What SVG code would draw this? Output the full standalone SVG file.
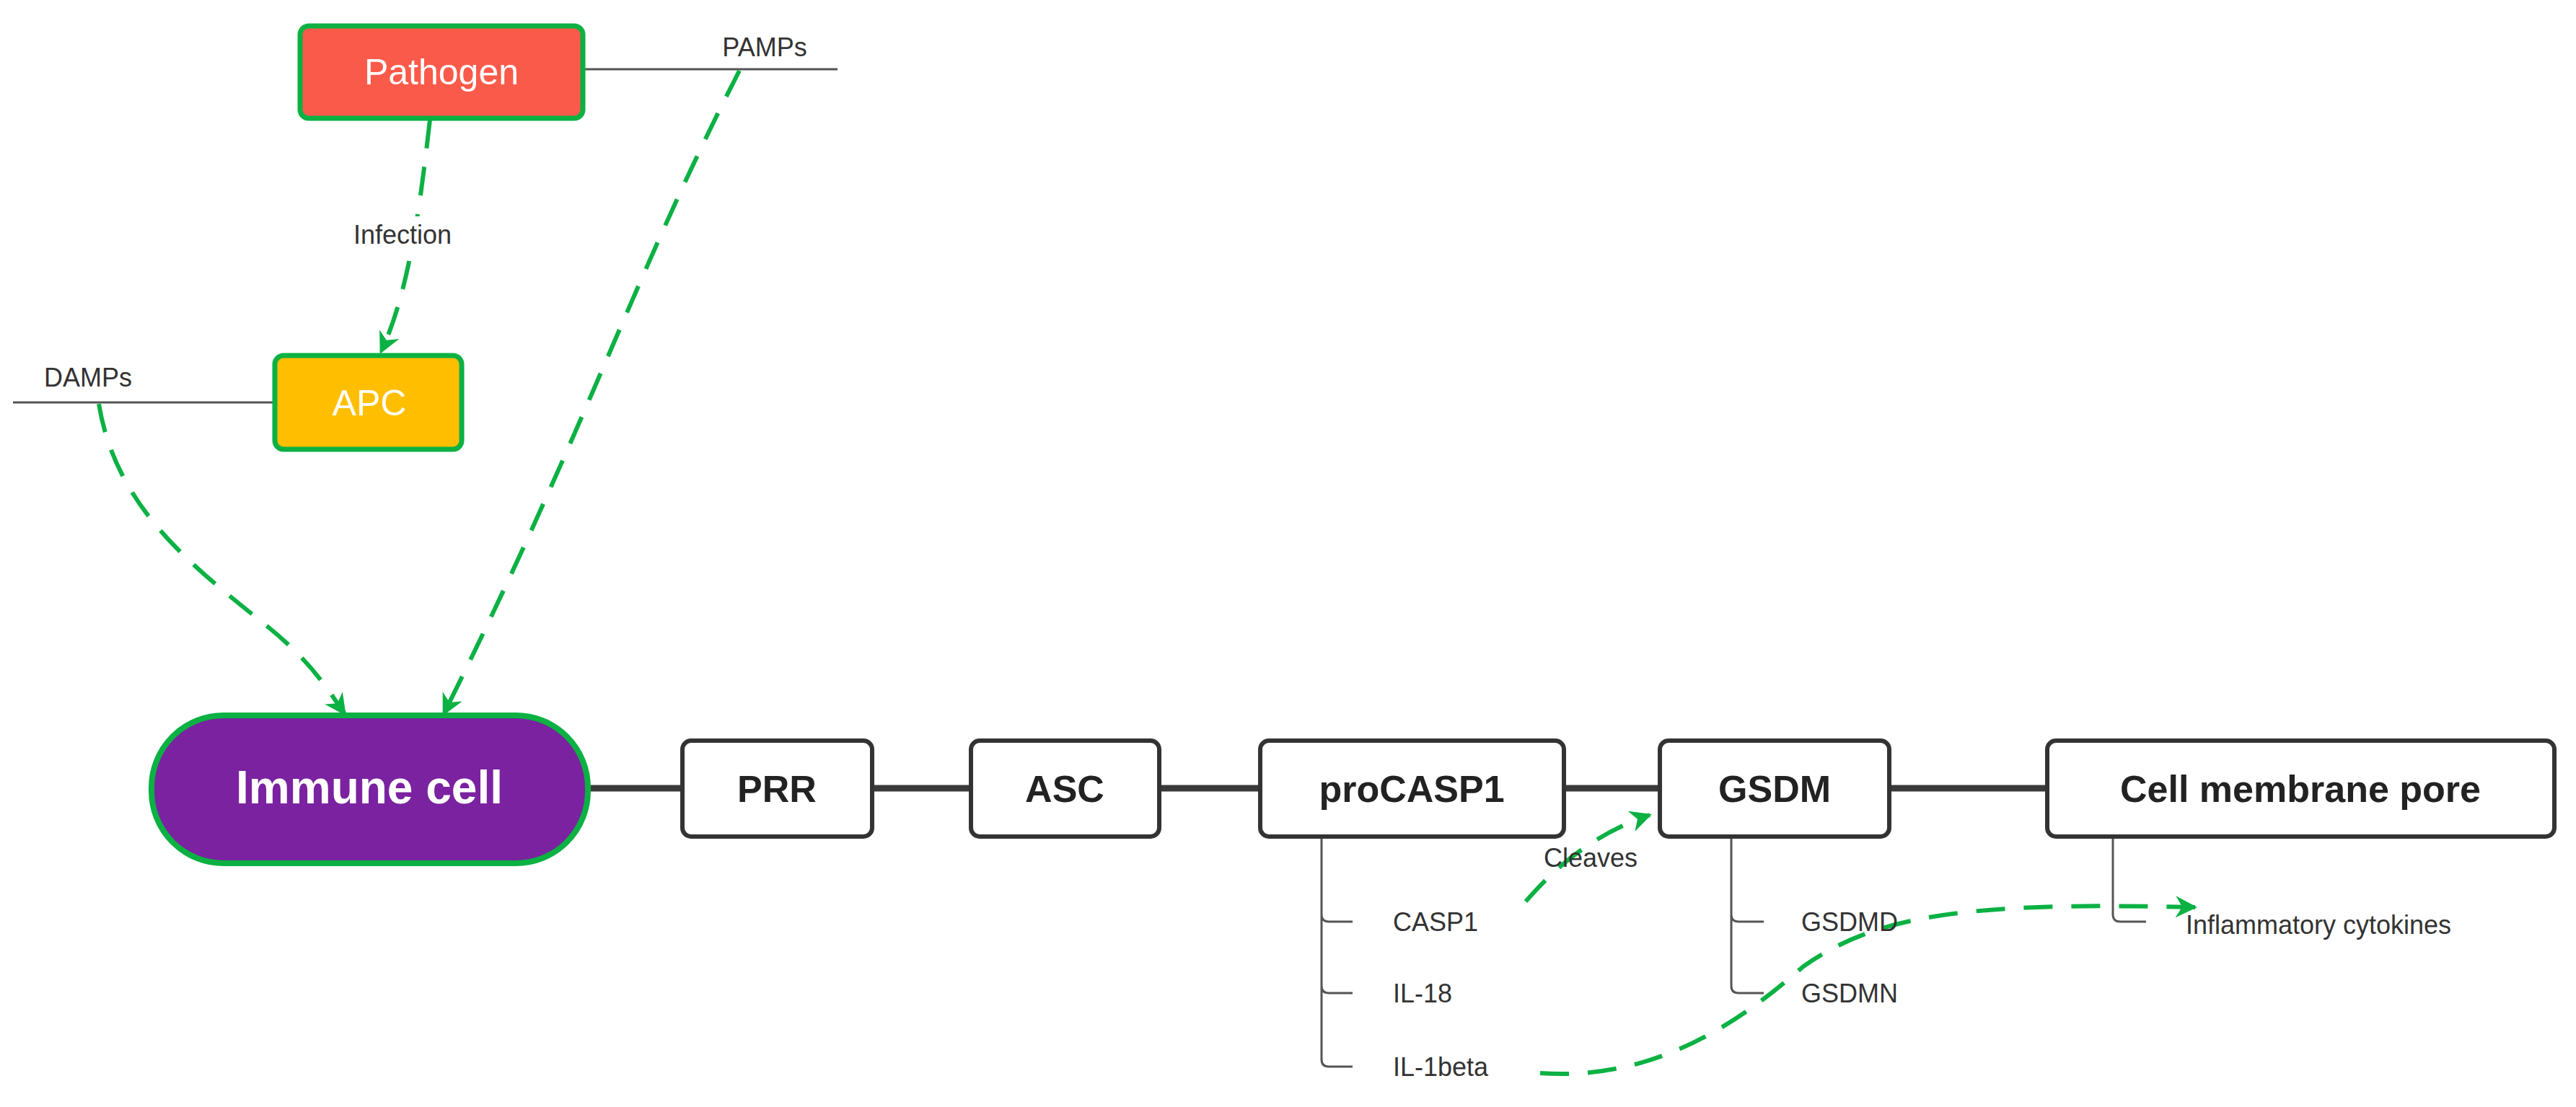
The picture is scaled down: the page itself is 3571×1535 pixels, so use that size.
<svg xmlns="http://www.w3.org/2000/svg" width="3571" height="1535" viewBox="0 0 3571 1535">
<defs>
<marker id="ah" viewBox="0 0 10 10" refX="9" refY="5" markerWidth="5" markerHeight="5" orient="auto" markerUnits="strokeWidth"><path d="M0,0 L10,5 L0,10 L3,5 Z" fill="#0bb143"/></marker>
<style>
.g{fill:none;stroke:#0bb143;stroke-width:6;stroke-dasharray:40 26;marker-end:url(#ah)}
.thin{fill:none;stroke:#555;stroke-width:3}
.main{fill:none;stroke:#3a3a3a;stroke-width:9}
.box{fill:#fff;stroke:#333;stroke-width:6}
.bl{font-family:"Liberation Sans",Arial,sans-serif;font-weight:bold;font-size:52px;fill:#222;text-anchor:middle}
.sm{font-family:"Liberation Sans",Arial,sans-serif;font-size:36px;fill:#333}
.wt{font-family:"Liberation Sans",Arial,sans-serif;font-size:50px;fill:#fff;text-anchor:middle}
</style>
</defs>
<g id="connectors">
<line class="thin" x1="808" y1="96" x2="1161" y2="96"/>
<line class="thin" x1="18" y1="558" x2="380" y2="558"/>
<line class="main" x1="815" y1="1093" x2="2838" y2="1093"/>
<path class="thin" d="M1832,1160 V1268 q0,10 10,10 H1875 M1832,1268 V1367 q0,10 10,10 H1875 M1832,1367 V1469 q0,10 10,10 H1875"/>
<path class="thin" d="M2400,1160 V1268 q0,10 10,10 H2445 M2400,1268 V1367 q0,10 10,10 H2445"/>
<path class="thin" d="M2929,1160 V1268 q0,10 10,10 H2975"/>
<path class="g" d="M596,166 C585,260 570,400 528,488"/>
<path class="g" d="M1025,98 C880,380 810,600 615,990"/>
<path class="g" d="M137,560 C160,700 260,780 360,860 C430,915 450,950 478,990"/>
<path class="g" d="M2115,1250 C2150,1210 2200,1160 2287,1130"/>
<path class="g" d="M2135,1488 C2300,1500 2420,1410 2500,1340 C2600,1270 2720,1250 3043,1258"/>
</g>
<rect x="500" y="300" width="120" height="50" fill="#fff"/>
<text class="sm" x="558" y="338" text-anchor="middle">Infection</text>
<g id="pathogen"><rect x="416" y="36" width="392" height="128" rx="12" fill="#fa5a4a" stroke="#0bb143" stroke-width="7"/><text class="wt" x="612" y="117">Pathogen</text></g>
<g id="pamps"><text class="sm" x="1060" y="78" text-anchor="middle">PAMPs</text></g>
<g id="apc"><rect x="381" y="493" width="259" height="130" rx="12" fill="#ffbf00" stroke="#0bb143" stroke-width="7"/><text class="wt" x="512" y="576">APC</text></g>
<g id="damps"><text class="sm" x="122" y="536" text-anchor="middle">DAMPs</text></g>
<g id="immune"><rect x="210" y="992" width="605" height="205" rx="100" fill="#7a22a0" stroke="#0bb143" stroke-width="8"/><text x="512" y="1114" font-family="Liberation Sans,Arial,sans-serif" font-weight="bold" font-size="64" fill="#fff" text-anchor="middle">Immune cell</text></g>
<g id="prr"><rect class="box" x="946" y="1027" width="263" height="133" rx="12"/><text class="bl" x="1077" y="1112">PRR</text></g>
<g id="asc"><rect class="box" x="1346" y="1027" width="261" height="133" rx="12"/><text class="bl" x="1476" y="1112">ASC</text></g>
<g id="procasp1"><rect class="box" x="1747" y="1027" width="421" height="133" rx="12"/><text class="bl" x="1957" y="1112">proCASP1</text></g>
<g id="gsdm"><rect class="box" x="2301" y="1027" width="318" height="133" rx="12"/><text class="bl" x="2460" y="1112">GSDM</text></g>
<g id="pore"><rect class="box" x="2838" y="1027" width="703" height="133" rx="12"/><text class="bl" x="3189" y="1112">Cell membrane pore</text></g>
<g id="labels">
<text class="sm" x="2205" y="1202" text-anchor="middle">Cleaves</text>
<text class="sm" x="1931" y="1291">CASP1</text>
<text class="sm" x="1931" y="1390">IL-18</text>
<text class="sm" x="1931" y="1492">IL-1beta</text>
<text class="sm" x="2497" y="1291">GSDMD</text>
<text class="sm" x="2497" y="1390">GSDMN</text>
<text class="sm" x="3030" y="1295">Inflammatory cytokines</text>
</g>
</svg>
